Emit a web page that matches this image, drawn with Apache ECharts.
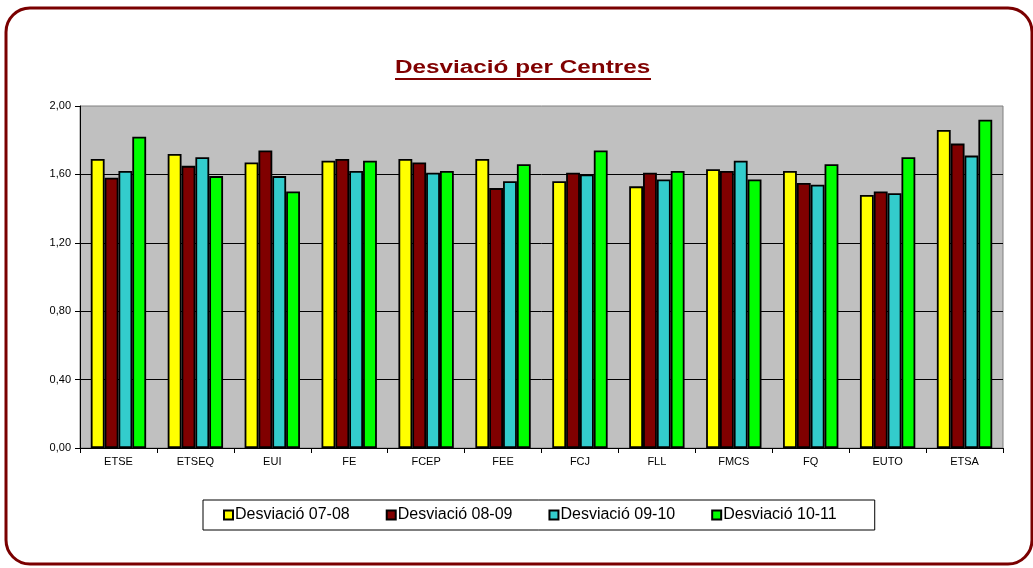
<!DOCTYPE html>
<html>
<head>
<meta charset="utf-8">
<script src="https://cdn.jsdelivr.net/npm/echarts@6/dist/echarts.min.js"></script>
<style>
  html, body { margin: 0; padding: 0; background: #fff; }
  #chart { width: 1033px; height: 568px; }
</style>
</head>
<body>
<div id="chart"></div>
<script>
// dades llegides del gràfic
const centres = ['ETSE', 'ETSEQ', 'EUI', 'FE', 'FCEP', 'FEE', 'FCJ', 'FLL', 'FMCS', 'FQ', 'EUTO', 'ETSA'];
const desv0708 = [1.69, 1.72, 1.67, 1.68, 1.69, 1.69, 1.56, 1.53, 1.63, 1.62, 1.48, 1.86];
const desv0809 = [1.58, 1.65, 1.74, 1.69, 1.67, 1.52, 1.61, 1.61, 1.62, 1.55, 1.50, 1.78];
const desv0910 = [1.62, 1.70, 1.59, 1.62, 1.61, 1.56, 1.60, 1.57, 1.68, 1.54, 1.49, 1.71];
const desv1011 = [1.82, 1.59, 1.50, 1.68, 1.62, 1.66, 1.74, 1.62, 1.57, 1.66, 1.70, 1.92];
const noms = ['Desviació 07-08', 'Desviació 08-09', 'Desviació 09-10', 'Desviació 10-11'];
const colors = ['#ffff00', '#800000', '#33cccc', '#00ff00'];

const font = 'Liberation Sans, Arial, sans-serif';

function serie(i, data) {
    return {
        name: noms[i],
        type: 'bar',
        data: data,
        barGap: '0%',
        barCategoryGap: '28%',
        itemStyle: { color: colors[i], borderColor: '#000', borderWidth: 1.8 }
    };
}

let myChart = echarts.init(document.getElementById('chart'));
myChart.setOption({
    animation: false,
    graphic: [
        {
            type: 'rect',
            shape: { x: 6, y: 8, width: 1026, height: 556, r: 24 },
            style: { fill: 'none', stroke: '#7a0000', lineWidth: 3 }
        },
        {
            // títol (text una mica eixamplat com a l'original)
            type: 'text',
            x: 395,
            y: 59,
            scaleX: 1.35,
            style: {
                text: 'Desviació per Centres',
                x: 0, y: 0,
                verticalAlign: 'top',
                font: 'bold 18px ' + font,
                fill: '#800000'
            }
        },
        {
            type: 'line',
            shape: { x1: 395, y1: 79, x2: 651, y2: 79 },
            style: { stroke: '#800000', lineWidth: 2 }
        }
    ],
    grid: {
        left: 80, right: 30, top: 106, bottom: 120,
        show: true, backgroundColor: '#c0c0c0', borderColor: '#808080', borderWidth: 1
    },
    legend: {
        left: 203,
        top: 500,
        padding: [7, 38, 7, 20],
        itemGap: 36,
        itemWidth: 9,
        itemHeight: 9,
        icon: 'rect',
        borderColor: '#000',
        borderWidth: 1,
        textStyle: { fontFamily: font, fontSize: 16, color: '#000', padding: [0, 0, 0, -3] }
    },
    xAxis: {
        type: 'category',
        data: centres,
        axisLine: { lineStyle: { color: '#000', width: 1 } },
        axisTick: { show: true, length: 5, lineStyle: { color: '#000' } },
        axisLabel: { fontFamily: font, fontSize: 11, color: '#000', margin: 8 }
    },
    yAxis: {
        type: 'value',
        min: 0,
        max: 2,
        interval: 0.4,
        axisLine: { show: true, lineStyle: { color: '#000', width: 1 } },
        axisTick: { show: true, length: 5, lineStyle: { color: '#000' } },
        axisLabel: {
            fontFamily: font, fontSize: 11, color: '#000', margin: 9,
            formatter: v => v.toFixed(2).replace('.', ',')
        },
        splitLine: { show: true, showMaxLine: false, lineStyle: { color: '#000', width: 1 } }
    },
    series: [
        serie(0, desv0708),
        serie(1, desv0809),
        serie(2, desv0910),
        serie(3, desv1011)
    ]
});
</script>
</body>
</html>
